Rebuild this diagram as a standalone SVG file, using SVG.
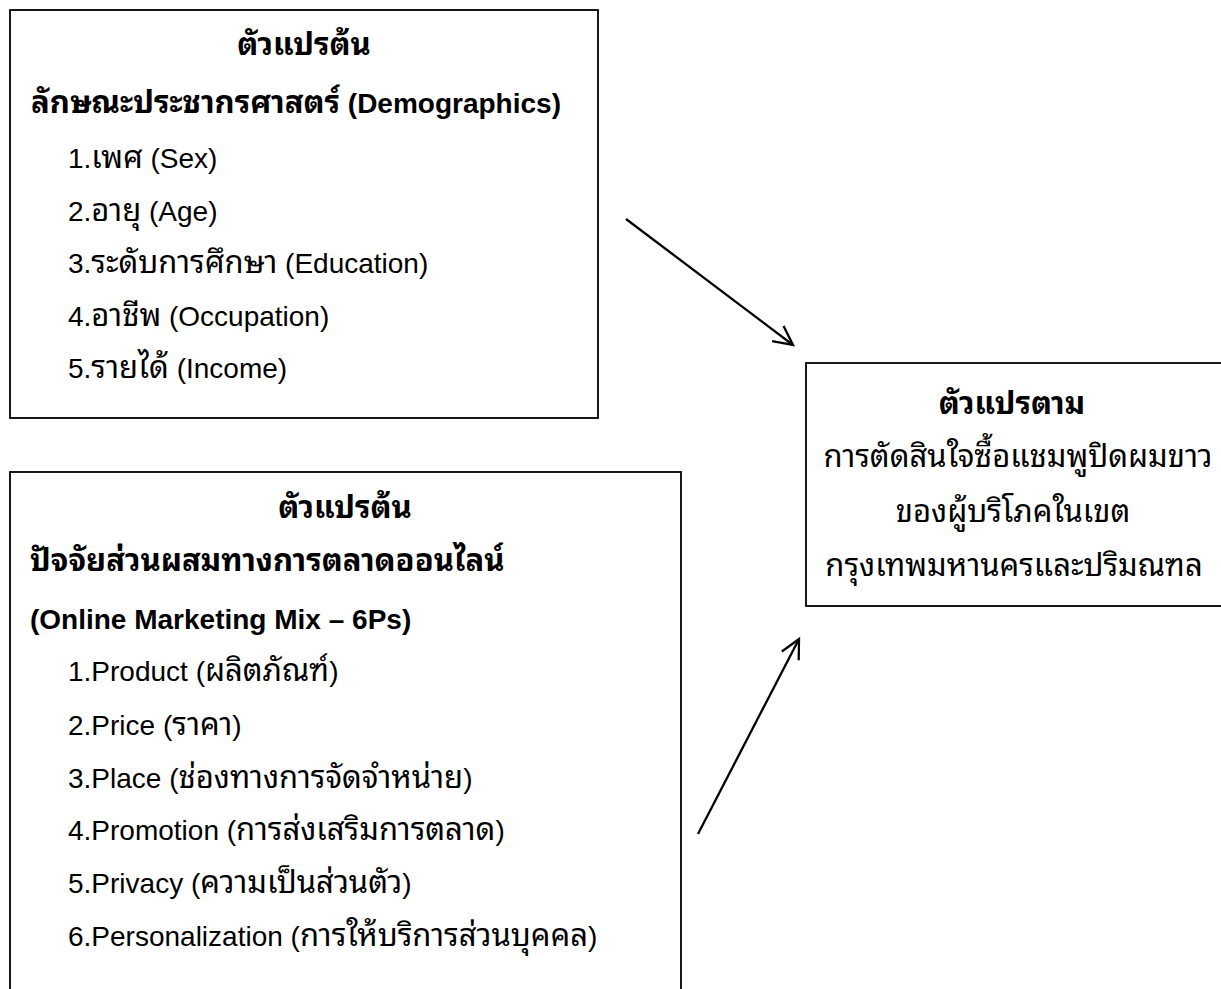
<svg xmlns="http://www.w3.org/2000/svg" width="1221" height="989" viewBox="0 0 1221 989">
<style>
  .box{fill:#fff;stroke:#000;stroke-width:1.8}
  text{font-family:"Liberation Sans",Arial,sans-serif;font-size:28px;fill:#000}
  .th{font-family:"Noto Sans Thai Looped","Noto Serif Thai","Noto Sans Thai","Liberation Sans",sans-serif;font-size:31px}
  .b{font-weight:bold}
  .c{text-anchor:middle}
  .conn{stroke:#000;stroke-width:2.3;fill:none}
</style>
<defs>
  <marker id="arr" markerUnits="userSpaceOnUse" markerWidth="30" markerHeight="30" refX="0" refY="0" viewBox="-25 -15 30 30" orient="auto">
    <path d="M-19,-9.5 L0,0 L-19,9.5" fill="none" stroke="#000" stroke-width="2.3"/>
  </marker>
</defs>
<rect width="1221" height="989" fill="#fff"/>
<g id="node-demographics">
  <rect class="box" x="10" y="10" width="588" height="408"/>
  <text class="b c th" x="304" y="55">ตัวแปรต้น</text>
  <text class="b" x="31" y="113"><tspan class="th">ลักษณะประชากรศาสตร์</tspan> (Demographics)</text>
  <text x="68" y="168">1.<tspan class="th">เพศ</tspan> (Sex)</text>
  <text x="68" y="221">2.<tspan class="th">อายุ</tspan> (Age)</text>
  <text x="68" y="273">3.<tspan class="th">ระดับการศึกษา</tspan> (Education)</text>
  <text x="68" y="326">4.<tspan class="th">อาชีพ</tspan> (Occupation)</text>
  <text x="68" y="378">5.<tspan class="th">รายได้</tspan> (Income)</text>
</g>
<g id="node-marketing-mix">
  <rect class="box" x="10" y="472" width="671" height="530"/>
  <text class="b c th" x="345" y="518">ตัวแปรต้น</text>
  <text class="b th" x="30" y="571">ปัจจัยส่วนผสมทางการตลาดออนไลน์</text>
  <text class="b" x="30" y="629">(Online Marketing Mix – 6Ps)</text>
  <text x="68" y="681">1.Product (<tspan class="th">ผลิตภัณฑ์</tspan>)</text>
  <text x="68" y="735">2.Price (<tspan class="th">ราคา</tspan>)</text>
  <text x="68" y="788">3.Place (<tspan class="th">ช่องทางการจัดจำหน่าย</tspan>)</text>
  <text x="68" y="840">4.Promotion (<tspan class="th">การส่งเสริมการตลาด</tspan>)</text>
  <text x="68" y="893">5.Privacy (<tspan class="th">ความเป็นส่วนตัว</tspan>)</text>
  <text x="68" y="946">6.Personalization (<tspan class="th">การให้บริการส่วนบุคคล</tspan>)</text>
</g>
<g id="node-dependent">
  <rect class="box" x="806" y="363" width="420" height="243"/>
  <text class="b c th" x="1012" y="414">ตัวแปรตาม</text>
  <text class="c th" x="1018" y="467">การตัดสินใจซื้อแชมพูปิดผมขาว</text>
  <text class="c th" x="1013" y="522">ของผู้บริโภคในเขต</text>
  <text class="c th" x="1014" y="576">กรุงเทพมหานครและปริมณฑล</text>
</g>
<g id="connectors">
  <line class="conn" x1="626" y1="219" x2="793" y2="345" marker-end="url(#arr)"/>
  <line class="conn" x1="698" y1="834" x2="799" y2="639" marker-end="url(#arr)"/>
</g>
</svg>
